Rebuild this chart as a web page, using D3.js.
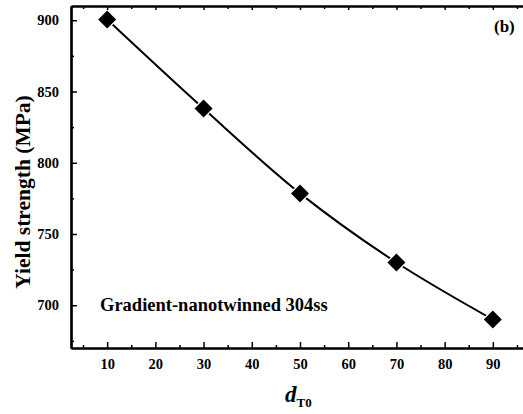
<!DOCTYPE html>
<html>
<head>
<meta charset="utf-8">
<script src="https://cdn.jsdelivr.net/npm/d3@7"></script>
<style>
  body { margin: 0; background: #fff; }
  text { font-family: "Liberation Serif", "Times New Roman", "DejaVu Serif", serif; font-weight: bold; }
</style>
</head>
<body>
<div id="chart"></div>
<script>
const dT0 = [10, 30, 50, 70, 90];
const yieldStrength = [900.5, 838, 778.5, 730, 690];
const xTicks = [10, 20, 30, 40, 50, 60, 70, 80, 90];
const yTicks = [700, 750, 800, 850, 900];

const width = 523, height = 414;
const margin = { top: 6, right: -6, bottom: 66, left: 71 };
const serif = "'Liberation Serif', 'Times New Roman', serif";

const svg = d3.select("#chart").append("svg")
    .attr("width", width)
    .attr("height", height)
    .style("display", "block");

const x = d3.scaleLinear()
    .domain([2.5, 97.5])
    .range([margin.left, width - margin.right]);

const y = d3.scaleLinear()
    .domain([670, 910])
    .range([height - margin.bottom, margin.top]);

const pts = dT0.map((d, i) => ({ x: d, y: yieldStrength[i] }));

// Curve
const line = d3.line()
    .x(d => x(d.x))
    .y(d => y(d.y))
    .curve(d3.curveCatmullRom);

svg.append("path")
    .datum(pts)
    .attr("d", line)
    .attr("fill", "none")
    .attr("stroke", "#000")
    .attr("stroke-width", 2);

// Markers
svg.selectAll(".pt")
    .data(pts)
    .join("path")
    .attr("class", "pt")
    .attr("transform", d => `translate(${x(d.x)},${y(d.y)})`)
    .attr("d", "M0,-9L9,0L0,9L-9,0Z")
    .attr("fill", "#000")
    .attr("stroke", "#fff")
    .attr("stroke-width", 2.5)
    .attr("paint-order", "stroke");

// Axes (ticks point inward)
const xMinor = d3.range(5, 100, 10);
const yMinor = d3.range(675, 910, 50);

const gBottom = svg.append("g").attr("transform", `translate(0,${y.range()[0]})`);
gBottom.call(d3.axisBottom(x).tickValues(xTicks).tickSizeInner(-6).tickSizeOuter(0).tickPadding(11));
gBottom.append("g").call(d3.axisBottom(x).tickValues(xMinor).tickSizeInner(-3).tickSizeOuter(0).tickFormat(""));

const gTop = svg.append("g").attr("transform", `translate(0,${y.range()[1]})`);
gTop.call(d3.axisTop(x).tickValues(xTicks).tickSizeInner(-4).tickSizeOuter(0).tickFormat(""));
gTop.append("g").call(d3.axisTop(x).tickValues(xMinor).tickSizeInner(-3).tickSizeOuter(0).tickFormat(""));

const gLeft = svg.append("g").attr("transform", `translate(${x.range()[0]},0)`);
gLeft.call(d3.axisLeft(y).tickValues(yTicks).tickSizeInner(-6).tickSizeOuter(0).tickPadding(12));
gLeft.append("g").call(d3.axisLeft(y).tickValues(yMinor).tickSizeInner(-3).tickSizeOuter(0).tickFormat(""));

svg.selectAll("g").attr("font-family", serif);
svg.selectAll(".domain").attr("stroke", "#000").attr("stroke-width", 2.2);
svg.selectAll(".tick line").attr("stroke", "#000").attr("stroke-width", 1.5);
svg.selectAll(".tick text")
    .attr("fill", "#000")
    .attr("font-family", serif)
    .attr("font-weight", "bold")
    .attr("font-size", 14.5);

// Axis titles
svg.append("text")
    .attr("transform", `translate(30,192) rotate(-90)`)
    .attr("text-anchor", "middle")
    .attr("font-family", serif)
    .attr("font-weight", "bold")
    .attr("font-size", 21.5)
    .text("Yield strength (MPa)");

const xt = svg.append("text")
    .attr("x", 285)
    .attr("y", 402)
    .attr("font-family", serif)
    .attr("font-weight", "bold");
xt.append("tspan").attr("font-style", "italic").attr("font-size", 23).text("d");
xt.append("tspan").attr("dy", 5).attr("font-size", 13).text("T0");

// Annotations
svg.append("text")
    .attr("x", 100)
    .attr("y", 311)
    .attr("font-family", serif)
    .attr("font-weight", "bold")
    .attr("font-size", 18.5)
    .text("Gradient-nanotwinned 304ss");

svg.append("text")
    .attr("x", 494)
    .attr("y", 32)
    .attr("font-family", serif)
    .attr("font-weight", "bold")
    .attr("font-size", 17)
    .text("(b)");
</script>
</body>
</html>
